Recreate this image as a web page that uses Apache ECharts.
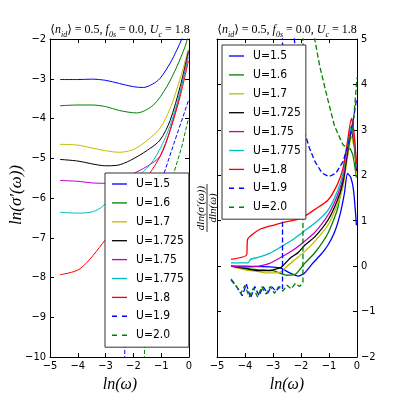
<!DOCTYPE html>
<html>
<head>
<meta charset="utf-8">
<script src="https://cdn.jsdelivr.net/npm/echarts/dist/echarts.min.js"></script>
<style>
  html, body { margin: 0; padding: 0; background: #fff; }
  #chart { width: 397px; height: 397px; }
</style>
</head>
<body>
<div id="chart"></div>
<script>
// legend names, one per curve
const uNames = ['U=1.5', 'U=1.6', 'U=1.7', 'U=1.725', 'U=1.75', 'U=1.775', 'U=1.8', 'U=1.9', 'U=2.0']
const xTicks = [-5, -4, -3, -2, -1, 0]

// left panel: ln(sigma'(w)) vs ln(w)
const lnS15 = [[-4.64,-3.02],[-4.0,-3.02],[-3.5,-3.01],[-3.0,-3.04],[-2.5,-3.12],[-2.0,-3.2],[-1.64,-3.22],[-1.3,-3.13],[-1.04,-2.99],[-0.68,-2.61],[-0.44,-2.28],[-0.26,-2.0],[-0.1,-1.7]]
const lnS16 = [[-4.64,-3.68],[-4.0,-3.66],[-3.5,-3.66],[-3.0,-3.7],[-2.5,-3.8],[-1.88,-3.86],[-1.28,-3.66],[-0.8,-3.2],[-0.44,-2.7],[-0.14,-2.19],[-0.06,-2.0],[0,-1.9]]
const lnS17 = [[-4.64,-4.65],[-4.0,-4.67],[-3.5,-4.74],[-3.0,-4.81],[-2.5,-4.85],[-2.0,-4.78],[-1.5,-4.55],[-1.04,-4.24],[-0.68,-3.75],[-0.32,-3.0],[-0.02,-2.25]]
const lnS1725 = [[-4.64,-5.03],[-4.0,-5.07],[-3.5,-5.14],[-3.0,-5.19],[-2.6,-5.18],[-2.1,-5.05],[-1.5,-4.8],[-1.04,-4.54],[-0.68,-4.05],[-0.32,-3.2],[-0.02,-2.3]]
const lnS175 = [[-4.64,-5.56],[-4.0,-5.58],[-3.5,-5.62],[-3.0,-5.63],[-2.5,-5.55],[-2.1,-5.42],[-1.5,-5.2],[-1.04,-4.95],[-0.68,-4.3],[-0.32,-3.35],[-0.02,-2.35]]
const lnS1775 = [[-4.64,-6.36],[-4.0,-6.38],[-3.56,-6.36],[-3.2,-6.26],[-2.8,-6.0],[-2.3,-5.7],[-1.79,-5.43],[-1.28,-5.05],[-0.8,-4.4],[-0.4,-3.55],[-0.02,-2.45]]
const lnS18 = [[-4.64,-7.93],[-3.92,-7.78],[-3.02,-7.06],[-2.5,-6.5],[-2.0,-5.95],[-1.46,-5.43],[-1.04,-4.95],[-0.68,-4.3],[-0.32,-3.45],[-0.02,-2.55]]
const lnS19 = [[-2.42,-14],[-2.3,-9.5],[-2.0,-8.0],[-1.6,-6.9],[-1.2,-6.0],[-0.92,-5.43],[-0.5,-4.54],[-0.02,-3.55]]
const lnS20 = [[-1.7,-14],[-1.6,-9.8],[-1.3,-8.0],[-0.9,-6.5],[-0.57,-5.43],[-0.26,-4.71],[-0.02,-4.0]]

// right panel: dln(sigma')/dln(w) vs ln(w)
const d15 = [[-4.5,0],[-4.0,0],[-3.5,-0.01],[-3.0,-0.02],[-2.7,-0.05],[-2.4,-0.15],[-2.1,-0.22],[-1.87,-0.15],[-1.6,0.05],[-1.3,0.25],[-1.04,0.46],[-0.8,0.75],[-0.6,1.15],[-0.45,1.6],[-0.34,2.04],[-0.22,1.95],[-0.12,1.65],[-0.02,0.9]]
const d16 = [[-4.5,0],[-4.0,-0.05],[-3.5,-0.08],[-3.0,-0.1],[-2.5,-0.2],[-2.2,-0.18],[-1.87,0.06],[-1.5,0.3],[-1.04,0.72],[-0.7,1.25],[-0.5,1.9],[-0.38,2.35],[-0.26,2.6],[-0.15,2.45],[-0.08,2.2],[-0.02,1.95]]
const d17 = [[-4.5,0],[-4.0,-0.08],[-3.5,-0.12],[-3.3,-0.15],[-2.9,-0.15],[-2.7,-0.12],[-2.5,0],[-2.2,0.15],[-1.87,0.32],[-1.5,0.55],[-1.04,0.9],[-0.7,1.35],[-0.5,1.75],[-0.35,2.35],[-0.2,2.85],[-0.1,2.6],[-0.02,2.0]]
const d1725 = [[-4.5,0],[-4.0,-0.05],[-3.5,-0.1],[-3.2,-0.1],[-3.0,-0.08],[-2.8,-0.05],[-2.66,0],[-2.4,0.17],[-2.1,0.3],[-1.87,0.46],[-1.5,0.65],[-1.04,1.01],[-0.7,1.45],[-0.5,1.85],[-0.35,2.45],[-0.2,2.96],[-0.1,2.7],[-0.02,2.1]]
const d175 = [[-4.5,0],[-4.0,-0.02],[-3.5,0],[-3.12,0.06],[-2.7,0.2],[-2.29,0.35],[-1.87,0.55],[-1.5,0.75],[-1.04,1.12],[-0.7,1.55],[-0.5,1.95],[-0.35,2.55],[-0.2,3.03],[-0.1,2.75],[-0.02,2.15]]
const d1775 = [[-4.5,0.07],[-3.9,0.07],[-3.8,0.15],[-3.5,0.2],[-3.12,0.28],[-2.7,0.43],[-2.3,0.58],[-1.87,0.78],[-1.5,0.95],[-1.04,1.23],[-0.7,1.65],[-0.5,2.05],[-0.35,2.65],[-0.2,3.1],[-0.1,2.8],[-0.02,2.2]]
const d18 = [[-4.5,0.15],[-3.95,0.24],[-3.9,0.6],[-3.5,0.8],[-3.0,0.9],[-2.5,0.98],[-2.0,1.05],[-1.5,1.25],[-1.04,1.45],[-0.7,1.8],[-0.5,2.15],[-0.35,2.7],[-0.2,3.25],[-0.1,2.9],[-0.02,2.25]]
const d19 = [[-4.5,-0.3],[-4.3,-0.45],[-4.1,-0.65],[-3.95,-0.4],[-3.8,-0.7],[-3.65,-0.45],[-3.5,-0.65],[-3.35,-0.45],[-3.2,-0.6],[-3.05,-0.45],[-2.9,-0.55],[-2.75,-0.45],[-2.66,-0.5],[-2.66,8],[-2.45,6.5],[-2.23,4.95],[-2.1,3.9],[-1.9,3.0],[-1.7,2.6],[-1.5,2.3],[-1.25,2.05],[-1.0,1.97],[-0.75,2.05],[-0.5,2.3],[-0.3,2.7],[-0.14,3.2],[-0.02,3.66]]
const d20 = [[-4.5,-0.28],[-4.35,-0.4],[-4.15,-0.6],[-4.0,-0.42],[-3.85,-0.68],[-3.7,-0.48],[-3.55,-0.68],[-3.4,-0.45],[-3.25,-0.62],[-3.1,-0.45],[-2.95,-0.6],[-2.8,-0.45],[-2.65,-0.55],[-2.5,-0.42],[-2.35,-0.5],[-2.2,-0.38],[-2.05,-0.45],[-1.93,-0.35],[-1.93,8],[-1.7,6.2],[-1.51,5.0],[-1.33,4.4],[-1.04,3.66],[-0.8,3.08],[-0.5,2.67],[-0.32,2.6],[-0.14,3.08],[0,4.15]]

const leftData = [lnS15, lnS16, lnS17, lnS1725, lnS175, lnS1775, lnS18, lnS19, lnS20]
const rightData = [d15, d16, d17, d1725, d175, d1775, d18, d19, d20]

const colors = ['#0000ff', '#008000', '#bfbf00', '#000000', '#bf00bf', '#00bfbf', '#ff0000', '#0000ff', '#008000']
const dashes = ['solid', 'solid', 'solid', 'solid', 'solid', 'solid', 'solid', 'dashed', 'dashed']

const tickFont = '"Liberation Sans Narrow", "DejaVu Sans Condensed", "Liberation Sans", sans-serif'
const mathFont = '"Liberation Serif", "DejaVu Serif", serif'
const minus = v => String(v).replace('-', '\u2212')

// legend line samples: thin bar for solid, two short bars for dashed
const solidIcon = 'path://M0,0h16v1.4h-16z'
const dashIcon = 'path://M0,0h5v1.4h-5z M10,0h5v1.4h-5z'

let myChart = echarts.init(document.getElementById('chart'), null, { renderer: 'canvas' })

const xAxis = (grid, pos, labels) => ({
  type: 'value', gridIndex: grid, position: pos, min: xTicks[0], max: xTicks[xTicks.length - 1], interval: 1,
  axisLine: { show: true, onZero: false, lineStyle: { color: '#000', width: 1 } },
  axisTick: { show: true, inside: true, length: 4, lineStyle: { color: '#000' } },
  axisLabel: { show: labels, margin: 4, fontSize: 11, color: '#000', fontFamily: tickFont, formatter: minus },
  splitLine: { show: false }
})
const yAxis = (grid, pos, labels, min, max) => ({
  type: 'value', gridIndex: grid, position: pos, min: min, max: max, interval: 1,
  axisLine: { show: true, onZero: false, lineStyle: { color: '#000', width: 1 } },
  axisTick: { show: true, inside: true, length: 4, lineStyle: { color: '#000' } },
  axisLabel: { show: labels, margin: 4, fontSize: 11, color: '#000', fontFamily: tickFont, formatter: minus },
  splitLine: { show: false }
})

const series = []
leftData.forEach((d, i) => {
  series.push({
    name: uNames[i], type: 'line', xAxisIndex: 0, yAxisIndex: 0, data: d,
    symbol: 'none', silent: true, clip: true, smooth: dashes[i] === 'solid' ? 0.3 : false,
    lineStyle: { color: colors[i], width: 1, type: dashes[i] }, itemStyle: { color: colors[i] }
  })
})
rightData.forEach((d, i) => {
  series.push({
    name: uNames[i], type: 'line', xAxisIndex: 2, yAxisIndex: 3, data: d,
    symbol: 'none', silent: true, clip: true, smooth: dashes[i] === 'solid' ? 0.2 : false,
    lineStyle: { color: colors[i], width: 1.3, type: dashes[i] }, itemStyle: { color: colors[i] }
  })
})

const legendItems = uNames.map((n, i) => ({ name: n, icon: dashes[i] === 'dashed' ? dashIcon : solidIcon }))

const legendBase = {
  orient: 'vertical', itemWidth: 15, itemHeight: 1.4, itemGap: 4.9,
  padding: [4, 5, 5, 7], backgroundColor: '#fff', borderColor: '#333', borderWidth: 1,
  textStyle: { fontSize: 12, lineHeight: 14, color: '#000', fontFamily: tickFont, padding: [0, 0, 0, 4] },
  data: legendItems, selectedMode: false
}

const titleRich = {
  m: { fontFamily: mathFont, fontSize: 12, lineHeight: 14, verticalAlign: 'top', color: '#000' },
  i: { fontFamily: mathFont, fontStyle: 'italic', fontSize: 12, lineHeight: 14, verticalAlign: 'top', color: '#000' },
  s: { fontFamily: mathFont, fontStyle: 'italic', fontSize: 8, lineHeight: 8, padding: [7, 0, 0, 0], verticalAlign: 'top', color: '#000' }
}
const titleText = '{m|\u27e8}{i|n}{s|id}{m|\u27e9 = 0.5, }{i|f}{s|0s}{m| = 0.0, }{i|U}{s|c}{m| = 1.8}'

let option = {
  animation: false,
  backgroundColor: '#fff',
  grid: [
    { left: 50, top: 39, width: 139, height: 318 },
    { left: 217, top: 39, width: 140, height: 318 }
  ],
  xAxis: [xAxis(0, 'bottom', true), xAxis(0, 'top', false), xAxis(1, 'bottom', true), xAxis(1, 'top', false)],
  yAxis: [yAxis(0, 'left', true, -10, -2), yAxis(0, 'right', false, -10, -2), yAxis(1, 'left', false, -2, 5), yAxis(1, 'right', true, -2, 5)],
  legend: [
    Object.assign({ left: 105, top: 173 }, legendBase),
    Object.assign({ left: 222, top: 45 }, legendBase)
  ],
  series: series,
  graphic: [
    { type: 'text', x: 120, y: 24, style: { text: titleText, rich: titleRich, align: 'center' } },
    { type: 'text', x: 287, y: 24, style: { text: titleText, rich: titleRich, align: 'center' } },
    { type: 'text', x: 120, y: 385, style: { text: 'ln(\u03c9)', font: 'italic 16px ' + mathFont, fill: '#000', align: 'center', verticalAlign: 'middle' } },
    { type: 'text', x: 287, y: 385, style: { text: 'ln(\u03c9)', font: 'italic 16px ' + mathFont, fill: '#000', align: 'center', verticalAlign: 'middle' } },
    { type: 'text', x: 17, y: 195, rotation: Math.PI / 2, style: { text: 'ln(\u03c3\u2032(\u03c9))', font: 'italic 17px ' + mathFont, fill: '#000', align: 'center', verticalAlign: 'middle' } },
    {
      type: 'group', x: 207, y: 208, rotation: Math.PI / 2,
      children: [
        { type: 'text', x: 0, y: -6, style: { text: 'dln(\u03c3\u2032(\u03c9))', font: 'italic 11px ' + mathFont, fill: '#000', align: 'center', verticalAlign: 'middle' } },
        { type: 'line', shape: { x1: -24, y1: 0, x2: 24, y2: 0 }, style: { stroke: '#000', lineWidth: 0.8 } },
        { type: 'text', x: 0, y: 6, style: { text: 'dln(\u03c9)', font: 'italic 11px ' + mathFont, fill: '#000', align: 'center', verticalAlign: 'middle' } }
      ]
    }
  ]
}

option && myChart.setOption(option)
</script>
</body>
</html>
